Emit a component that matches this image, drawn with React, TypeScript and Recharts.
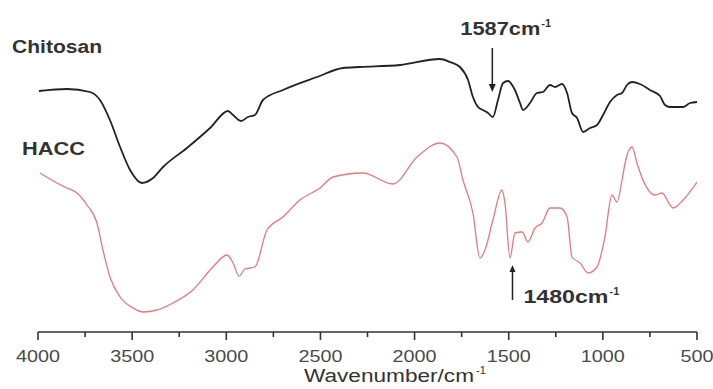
import React from "react";
import { LineChart, Line, XAxis, YAxis, ReferenceLine, ReferenceDot } from "recharts";

// Wavenumber (cm-1) and transmittance (arbitrary units)
const chitosanWn = [3995, 3846, 3724, 3671, 3618, 3564, 3511, 3448, 3389, 3336, 3209, 3086, 2991, 2964, 2922, 2885, 2848, 2805, 2699, 2518, 2380, 2290, 2077, 1865, 1812, 1759, 1716, 1690, 1663, 1637, 1610, 1584, 1557, 1530, 1504, 1467, 1440, 1424, 1387, 1350, 1318, 1281, 1254, 1217, 1190, 1164, 1137, 1105, 1068, 1031, 999, 962, 925, 898, 872, 845, 803, 750, 696, 670, 643, 574, 537, 500];
const chitosanT = [241, 243, 240, 232, 212, 185, 162, 149, 154, 165, 184, 204, 221, 217, 211, 215, 217, 232, 242, 255, 264, 265, 267, 273, 270, 265, 252, 235, 225, 222, 219, 215, 232, 249, 251, 242, 229, 222, 229, 239, 240, 247, 245, 248, 239, 219, 214, 200, 204, 207, 217, 230, 237, 239, 247, 250, 248, 242, 236, 227, 225, 225, 229, 230];

const haccWn = [3989, 3899, 3846, 3793, 3740, 3687, 3655, 3618, 3564, 3495, 3442, 3368, 3283, 3177, 3071, 2996, 2964, 2932, 2901, 2848, 2784, 2699, 2609, 2502, 2433, 2274, 2115, 1987, 1865, 1775, 1743, 1690, 1653, 1626, 1584, 1536, 1520, 1493, 1467, 1429, 1398, 1360, 1323, 1281, 1228, 1190, 1164, 1121, 1079, 1031, 989, 952, 925, 898, 882, 845, 819, 787, 723, 686, 643, 627, 574, 500];
const haccT = [159, 149, 144, 139, 127, 109, 82, 55, 35, 24, 20, 22, 29, 42, 65, 77, 69, 56, 63, 65, 102, 115, 132, 144, 155, 159, 148, 175, 189, 175, 152, 119, 74, 82, 112, 142, 129, 74, 99, 100, 90, 104, 109, 124, 124, 115, 75, 69, 59, 65, 95, 137, 130, 152, 169, 185, 169, 152, 137, 139, 127, 124, 132, 150];

const xTicks = [4000, 3750, 3500, 3250, 3000, 2750, 2500, 2250, 2000, 1750, 1500, 1250, 1000, 750, 500];
const seriesNames = ["Chitosan", "HACC"];
const peakMarks = [1587, 1480];

const chitosanData = chitosanWn.map((wn, i) => ({ wn, t: chitosanT[i] }));
const haccData = haccWn.map((wn, i) => ({ wn, t: haccT[i] }));

const FONT = "'Liberation Sans', Arial, sans-serif";
const TEXT = "#333333";

const Tick = (props: any) => {
  const { x, y, payload } = props;
  const v = payload.value;
  const major = v % 500 === 0;
  const label = String(v);
  return (
    <g>
      <line x1={x} x2={x} y1={y} y2={y + (major ? 8 : 5)} stroke="#333" strokeWidth={1.6} />
      {major && (
        <text
          x={x}
          y={y + 30}
          textAnchor="middle"
          fontFamily={FONT}
          fontSize={16}
          fill="#4a4a4a"
          textLength={label.length * 11}
          lengthAdjust="spacingAndGlyphs"
        >
          {label}
        </text>
      )}
    </g>
  );
};

const AxisTitle = (props: any) => {
  const vb = props.viewBox || { x: 38, y: 332, width: 659, height: 40 };
  const x0 = vb.x + 266;
  const base = vb.y + 50;
  return (
    <g>
      <text x={x0} y={base} fontFamily={FONT} fontSize={18} fill={TEXT} textLength={170} lengthAdjust="spacingAndGlyphs">
        Wavenumber/cm
      </text>
      <text x={x0 + 172} y={base - 8} fontFamily={FONT} fontSize={11} fill={TEXT}>
        -1
      </text>
    </g>
  );
};

const nameShape = (name: string, dx: number, w: number) => (p: any) => (
  <text x={p.cx + dx} y={p.cy} fontFamily={FONT} fontWeight="bold" fontSize={18} fill={TEXT} textLength={w} lengthAdjust="spacingAndGlyphs">
    {name}
  </text>
);

const peakLabelShape = (text: string, dx: number, w: number) => (p: any) => (
  <g>
    <text x={p.cx + dx} y={p.cy} fontFamily={FONT} fontWeight="bold" fontSize={18} fill={TEXT} textLength={w} lengthAdjust="spacingAndGlyphs">
      {text}
    </text>
    <text x={p.cx + dx + w + 1} y={p.cy - 8} fontFamily={FONT} fontWeight="bold" fontSize={11} fill={TEXT}>
      -1
    </text>
  </g>
);

const arrowDown = (p: any) => (
  <polygon points={`${p.cx},${p.cy} ${p.cx - 3.5},${p.cy - 8} ${p.cx + 3.5},${p.cy - 8}`} fill="#222" />
);
const arrowUp = (p: any) => (
  <polygon points={`${p.cx},${p.cy} ${p.cx - 3},${p.cy + 7} ${p.cx + 3},${p.cy + 7}`} fill="#222" />
);

export default function App() {
  return (
    <div style={{ position: "absolute", left: 0, top: 0, width: 713, height: 389, background: "#fff" }}>
      <LineChart width={713} height={389} margin={{ top: 32, right: 16, bottom: 17, left: 38 }}>
        <XAxis
          dataKey="wn"
          type="number"
          domain={[500, 4000]}
          reversed
          ticks={xTicks}
          interval={0}
          tickSize={0}
          tickMargin={0}
          tickLine={false}
          tick={<Tick />}
          height={40}
          axisLine={{ stroke: "#333", strokeWidth: 1.6 }}
          allowDataOverflow
          label={<AxisTitle />}
        />
        <YAxis type="number" domain={[0, 300]} hide allowDataOverflow />
        <Line data={chitosanData} dataKey="t" name={seriesNames[0]} type="monotoneX" stroke="#222" strokeWidth={1.8} dot={false} isAnimationActive={false} />
        <Line data={haccData} dataKey="t" name={seriesNames[1]} type="monotoneX" stroke="#e8787c" strokeWidth={1.3} dot={false} isAnimationActive={false} />

        <ReferenceDot x={4000} y={279} r={0} ifOverflow="visible" shape={nameShape(seriesNames[0], -26, 90)} />
        <ReferenceDot x={4000} y={177} r={0} ifOverflow="visible" shape={nameShape(seriesNames[1], -16, 63)} />

        <ReferenceLine segment={[{ x: peakMarks[0], y: 284 }, { x: peakMarks[0], y: 246 }]} stroke="#222" strokeWidth={1.5} ifOverflow="visible" />
        <ReferenceDot x={peakMarks[0]} y={240} r={0} ifOverflow="visible" shape={arrowDown} />
        <ReferenceDot x={peakMarks[0]} y={297} r={0} ifOverflow="visible" shape={peakLabelShape("1587cm", -32, 80)} />

        <ReferenceLine segment={[{ x: peakMarks[1], y: 32 }, { x: peakMarks[1], y: 62 }]} stroke="#222" strokeWidth={1.5} ifOverflow="visible" />
        <ReferenceDot x={peakMarks[1]} y={67} r={0} ifOverflow="visible" shape={arrowUp} />
        <ReferenceDot x={peakMarks[1]} y={29} r={0} ifOverflow="visible" shape={peakLabelShape("1480cm", 11, 85)} />
      </LineChart>
    </div>
  );
}
